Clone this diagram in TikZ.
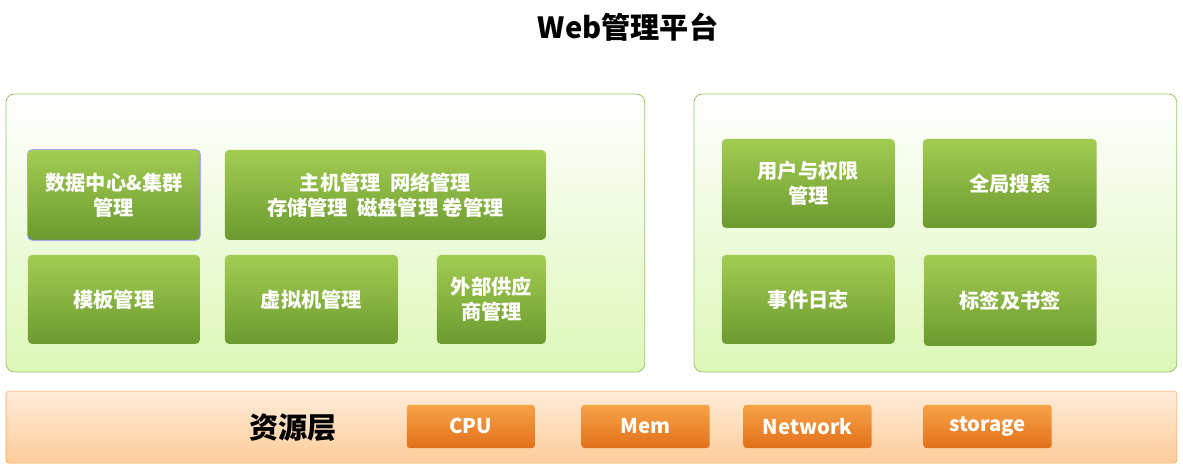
\documentclass[tikz,border=0pt]{standalone}
\usepackage{fontspec}
\setmainfont{Noto Sans CJK SC}
\usetikzlibrary{positioning}
\definecolor{gtop}{HTML}{A3CC52}
\definecolor{gbot}{HTML}{6B9A2F}
\definecolor{otop}{HTML}{F7A348}
\definecolor{obot}{HTML}{E2701A}
\definecolor{pborder}{HTML}{9CC86A}
\definecolor{pbot}{HTML}{DDF7B8}
\tikzset{
  panel/.style={draw=pborder, rounded corners=6pt, top color=white, bottom color=pbot, line width=0.6pt},
  gbox/.style={rounded corners=3pt, top color=gtop, bottom color=gbot, text=white, font=\bfseries\Large, align=center, inner sep=0pt},
  obox/.style={rounded corners=2pt, top color=otop, bottom color=obot, text=white, font=\bfseries\Large, align=center, inner sep=0pt, minimum width=3.2cm, minimum height=1.08cm},
}
\newcommand{\gnode}[6]{%
  \node[gbox, minimum width=#4*0.025cm, minimum height=#5*0.025cm] (#1) at (#2*0.025, -#3*0.025) {#6};}
\begin{document}
\begin{tikzpicture}
  \useasboundingbox (0,0) rectangle (29.575,-11.75);

  \node[font=\bfseries\huge] (title) at (15.7,-0.68) {Web管理平台};

  % panels
  \draw[panel] (0.15,-2.35) rectangle (16.12,-9.3);
  \draw[panel] (17.35,-2.35) rectangle (29.42,-9.3);
  \draw[rounded corners=2pt, draw=orange!70, top color=orange!15, bottom color=orange!40] (0.15,-9.78) rectangle (29.42,-11.58);

  % left panel
  \gnode{dc}{114}{195}{172}{90}{数据中心\&集群\\管理}
  \draw[blue!50, rounded corners=3pt] (dc.south west) rectangle (dc.north east);
  \gnode{host}{385.5}{195}{321}{90}{主机管理\ \ 网络管理\\存储管理\ \ 磁盘管理\ 卷管理}
  \gnode{tpl}{114}{299.5}{172}{89}{模板管理}
  \gnode{vm}{311.5}{299.5}{173}{89}{虚拟机管理}
  \gnode{ext}{491.5}{299.5}{109}{89}{外部供应\\商管理}

  % right panel
  \gnode{user}{808.5}{183.5}{173}{89}{用户与权限\\管理}
  \gnode{search}{1010}{183.5}{174}{89}{全局搜索}
  \gnode{event}{808.5}{299.5}{173}{89}{事件日志}
  \gnode{tag}{1010.5}{300.5}{173}{91}{标签及书签}

  % resource layer
  \node[font=\bfseries\huge] (res) at (7.32,-10.68) {资源层};
  \node[obox] (cpu) at (11.77,-10.66) {CPU};
  \node[obox] (mem) at (16.14,-10.66) {Mem};
  \node[obox] (net) at (20.19,-10.66) {Network};
  \node[obox] (sto) at (24.69,-10.66) {storage};
\end{tikzpicture}
\end{document}
